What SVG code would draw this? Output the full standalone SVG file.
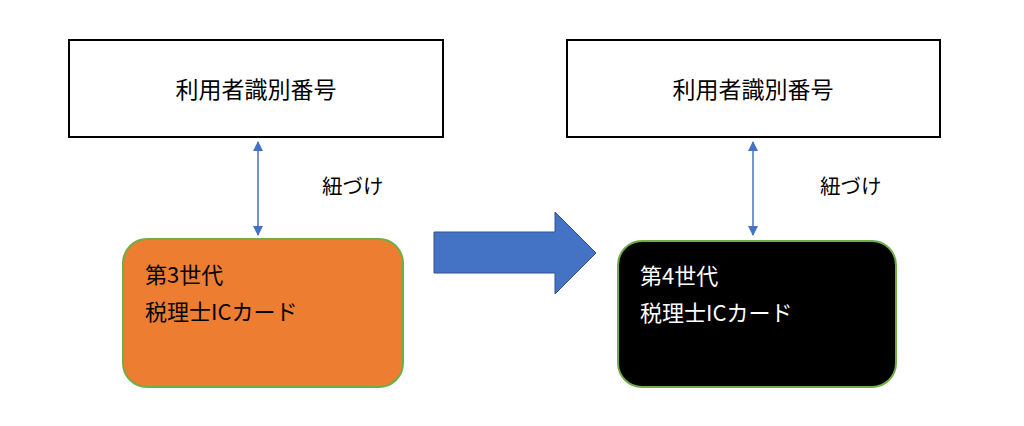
<svg xmlns="http://www.w3.org/2000/svg" width="1024" height="426" viewBox="0 0 1024 426">
<defs>
<style>
text{font-family:"Noto Sans CJK JP","Noto Sans",sans-serif;}
.box{fill:#fff;stroke:#000;stroke-width:2;}
.t{font-size:23px;fill:#000;}
.lbl{font-size:20.5px;fill:#000;}
.cl{font-size:22px;}
.card{stroke:#70AD47;stroke-width:2;}
.conn{stroke:#4472C4;stroke-width:1.5;fill:none;marker-start:url(#ah);marker-end:url(#ah);}
</style>
<marker id="ah" viewBox="0 0 10 10" refX="9" refY="5" markerWidth="10" markerHeight="10" markerUnits="userSpaceOnUse" orient="auto-start-reverse"><path d="M0,0 L10,5 L0,10 Z" fill="#4472C4"/></marker>
</defs>
<rect width="1024" height="426" fill="#fff"/>
<g id="id1">
<rect class="box" x="69" y="40" width="374" height="97"/>
<text class="t" x="256" y="98" text-anchor="middle">利用者識別番号</text>
</g>
<g id="id2">
<rect class="box" x="567" y="40" width="373" height="97"/>
<text class="t" x="753" y="98" text-anchor="middle">利用者識別番号</text>
</g>
<g id="card3">
<rect class="card" x="123" y="239" width="280" height="148" rx="24" fill="#ED7D31"/>
<text class="lbl cl" x="145" y="283">第3世代</text>
<text class="lbl cl" x="145" y="320">税理士ICカード</text>
</g>
<g id="card4">
<rect class="card" x="618" y="241" width="278" height="146" rx="24" fill="#000"/>
<text class="lbl cl" x="640" y="284" style="fill:#fff">第4世代</text>
<text class="lbl cl" x="640" y="321" style="fill:#fff">税理士ICカード</text>
</g>
<g id="bigarrow">
<path d="M434,232 L555,232 L555,212 L596,253 L555,294 L555,273 L434,273 Z" fill="#4472C4" stroke="#2F528F" stroke-width="1"/>
</g>
<g id="connectors">
<line class="conn" x1="258" y1="142" x2="258" y2="235"/>
<line class="conn" x1="753" y1="142" x2="753" y2="235"/>
<text class="lbl" x="322" y="194">紐づけ</text>
<text class="lbl" x="820" y="194">紐づけ</text>
</g>
</svg>
